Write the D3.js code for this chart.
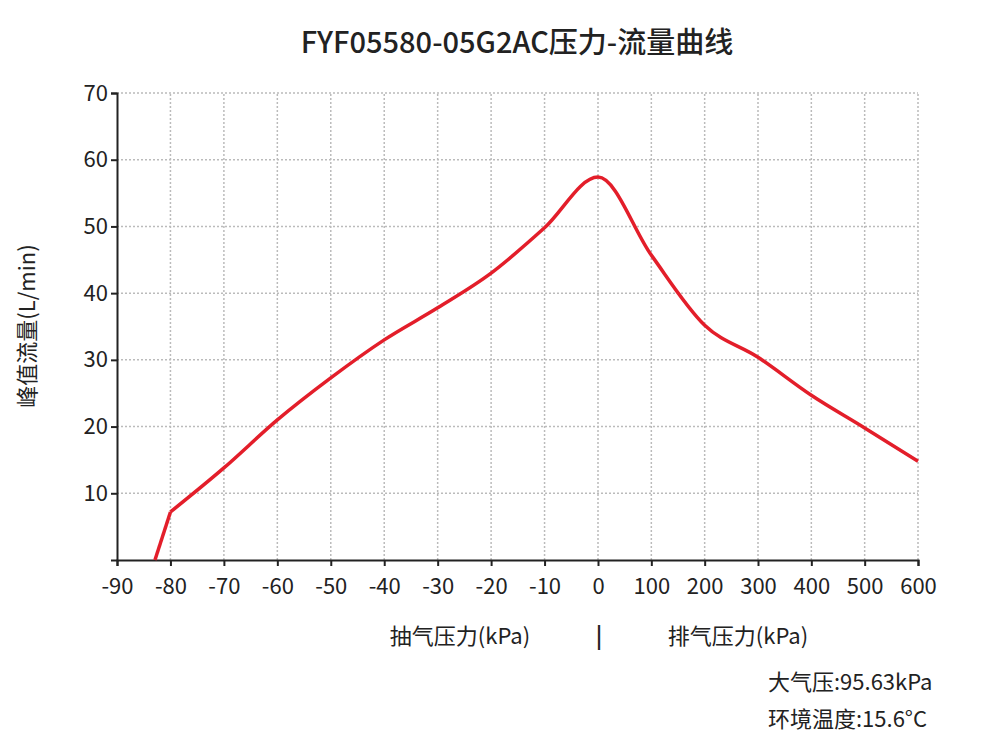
<!DOCTYPE html>
<html><head><meta charset="utf-8">
<script src="https://cdn.jsdelivr.net/npm/d3@7"></script>
<style>body{margin:0;background:#fff}text{font-family:"Noto Sans CJK SC","Noto Sans",sans-serif;fill:#222}</style>
</head><body><svg id="c" width="1000" height="754"></svg>
<script>
const xTicks=[-90,-80,-70,-60,-50,-40,-30,-20,-10,0,100,200,300,400,500,600];
const yTicks=[10,20,30,40,50,60,70];
const pressure=[-82.9,-80,-70,-60,-50,-40,-30,-20,-10,0,100,200,300,400,500,600];
const flow=[0,7.2,13.8,21.0,27.3,33.0,37.8,43.0,49.8,57.4,45.7,35.2,30.4,24.7,19.8,14.8];

const svg=d3.select("#c");
const x=d3.scaleLinear().domain([-90,0,600]).range([117,598,918]);
const y=d3.scaleLinear().domain([0,70]).range([560,93]);

const g=svg.append("g");
xTicks.slice(1).forEach(t=>g.append("line").attr("x1",x(t)).attr("x2",x(t)).attr("y1",y(0)).attr("y2",y(70)).attr("stroke","#bbb").attr("stroke-width",1.5).attr("stroke-dasharray","2,2"));
yTicks.forEach(t=>g.append("line").attr("x1",x(-90)).attr("x2",x(600)).attr("y1",y(t)).attr("y2",y(t)).attr("stroke","#bbb").attr("stroke-width",1.5).attr("stroke-dasharray","2,2"));

const xa=svg.append("g").attr("transform","translate(0,560)").call(d3.axisBottom(x).tickValues(xTicks).tickFormat(d=>d).tickSize(6));
xa.selectAll("text").attr("font-size",22).attr("dy","1.15em");
const ya=svg.append("g").attr("transform","translate(117,0)").call(d3.axisLeft(y).tickValues(yTicks).tickSize(6));
ya.selectAll("text").attr("font-size",22);
svg.selectAll(".domain,.tick line").attr("stroke","#222").attr("stroke-width",2);

const pts=pressure.map((p,i)=>[p,flow[i]]);
const line=d3.line().x(d=>x(d[0])).y(d=>y(d[1]));
svg.append("path").datum(pts.slice(0,2)).attr("d",line.curve(d3.curveLinear)(pts.slice(0,2)))
 .attr("fill","none").attr("stroke","#e31e2a").attr("stroke-width",3.5);
svg.append("path").attr("d",line.curve(d3.curveMonotoneX)(pts.slice(1)))
 .attr("fill","none").attr("stroke","#e31e2a").attr("stroke-width",3.5);

svg.append("text").attr("x",517).attr("y",53).attr("text-anchor","middle").attr("font-size",29).attr("font-weight",500).text("FYF05580-05G2AC压力-流量曲线");
svg.append("text").attr("transform","translate(35,326) rotate(-90)").attr("text-anchor","middle").attr("font-size",22).text("峰值流量(L/min)");
svg.append("text").attr("x",460).attr("y",644).attr("text-anchor","middle").attr("font-size",22).text("抽气压力(kPa)");
svg.append("text").attr("x",599).attr("y",644).attr("text-anchor","middle").attr("font-size",22).attr("font-weight",700).text("|");
svg.append("text").attr("x",738).attr("y",644).attr("text-anchor","middle").attr("font-size",22).text("排气压力(kPa)");
svg.append("text").attr("x",768).attr("y",690).attr("font-size",22).text("大气压:95.63kPa");
svg.append("text").attr("x",768).attr("y",727).attr("font-size",22).text("环境温度:15.6°C");
</script></body></html>
